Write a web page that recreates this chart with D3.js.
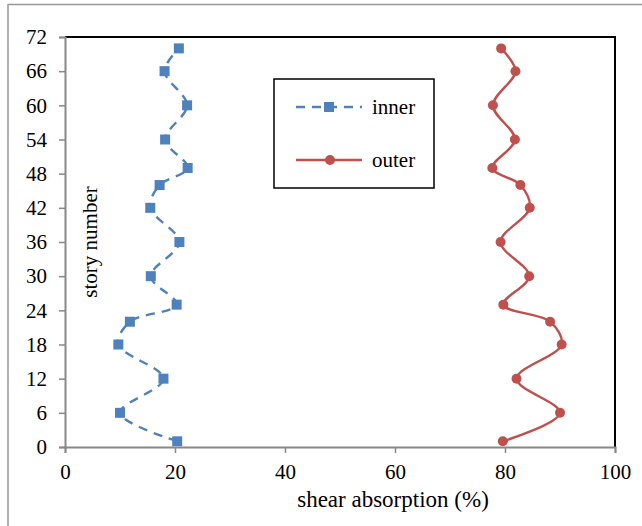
<!DOCTYPE html>
<html><head><meta charset="utf-8">
<script src="https://cdn.jsdelivr.net/npm/d3@7"></script>
</head><body style="margin:0">
<svg id="c" width="642" height="526"></svg>
<script>
const stories = [1, 6, 12, 18, 22, 25, 30, 36, 42, 46, 49, 54, 60, 66, 70];
const innerVals = [20.4, 10.0, 17.9, 9.7, 11.8, 20.3, 15.6, 20.8, 15.5, 17.2, 22.3, 18.2, 22.2, 18.1, 20.7];
const outerVals = [79.6, 90.0, 82.1, 90.3, 88.2, 79.7, 84.4, 79.2, 84.5, 82.8, 77.7, 81.8, 77.8, 81.9, 79.3];
const xTicks = [0, 20, 40, 60, 80, 100];
const yTicks = [0, 6, 12, 18, 24, 30, 36, 42, 48, 54, 60, 66, 72];
const seriesNames = ["inner", "outer"];

const FONT = '"Liberation Serif"';
const svg = d3.select("#c");
const L = 65, R = 615, T = 37, B = 447;
const x = d3.scaleLinear().domain([0, 100]).range([L, R]);
const y = d3.scaleLinear().domain([0, 72]).range([B, T]);

// chart frame (left and top edges visible)
svg.append("line").attr("x1", 8).attr("x2", 642).attr("y1", 4.5).attr("y2", 4.5).attr("stroke", "#999").attr("stroke-width", 1.5);
svg.append("line").attr("x1", 8).attr("x2", 8).attr("y1", 4).attr("y2", 526).attr("stroke", "#999").attr("stroke-width", 1.5);
// plot area border top & right
svg.append("path").attr("d", `M${L},${T}H${R}V${B}`).attr("fill", "none").attr("stroke", "#000").attr("stroke-width", 2);

const xAxis = d3.axisBottom(x).tickValues(xTicks).tickSize(6).tickPadding(11);
const gx = svg.append("g").attr("transform", `translate(0,${B})`).call(xAxis);
gx.attr("font-family", null);
gx.select(".domain").attr("stroke", "#888").attr("stroke-width", 2);
gx.selectAll(".tick line").attr("stroke", "#888").attr("stroke-width", 1.5);
gx.selectAll("text").attr("font-size", 21).attr("fill", "#000").style("font-family", FONT);

const yAxis = d3.axisLeft(y).tickValues(yTicks).tickSize(6).tickPadding(12);
const gy = svg.append("g").attr("transform", `translate(${L},0)`).call(yAxis);
gy.attr("font-family", null);
gy.select(".domain").attr("stroke", "#888").attr("stroke-width", 2);
gy.selectAll(".tick line").attr("stroke", "#888").attr("stroke-width", 1.5);
gy.selectAll("text").attr("font-size", 21).attr("fill", "#000").style("font-family", FONT);

svg.append("text").attr("x", 393).attr("y", 507).attr("text-anchor", "middle")
  .attr("font-size", 23).attr("fill", "#000").style("font-family", FONT).text("shear absorption (%)");
svg.append("text").attr("transform", "translate(97,242) rotate(-90)").attr("text-anchor", "middle")
  .attr("font-size", 21).attr("fill", "#000").style("font-family", FONT).text("story number");

const blue = "#4F81BD", red = "#C0504D";
const line = d3.line().curve(d3.curveCatmullRom.alpha(0.5));
const innerPts = stories.map((s, i) => [x(innerVals[i]), y(s)]);
const outerPts = stories.map((s, i) => [x(outerVals[i]), y(s)]);

svg.append("path").attr("d", line(innerPts)).attr("fill", "none").attr("stroke", blue)
  .attr("stroke-width", 2.4).attr("stroke-dasharray", "9,7");
svg.append("path").attr("d", line(outerPts)).attr("fill", "none").attr("stroke", red)
  .attr("stroke-width", 2.4);
svg.selectAll(".sq").data(innerPts).enter().append("rect")
  .attr("x", d => d[0] - 5).attr("y", d => d[1] - 5).attr("width", 10).attr("height", 10).attr("fill", blue);
svg.selectAll(".ci").data(outerPts).enter().append("circle")
  .attr("cx", d => d[0]).attr("cy", d => d[1]).attr("r", 5).attr("fill", red);

const lg = svg.append("g");
lg.append("rect").attr("x", 274).attr("y", 79).attr("width", 160).attr("height", 109)
  .attr("fill", "#fff").attr("stroke", "#000").attr("stroke-width", 1.5);
lg.append("line").attr("x1", 296).attr("x2", 362).attr("y1", 107).attr("y2", 107)
  .attr("stroke", blue).attr("stroke-width", 2.4).attr("stroke-dasharray", "9,7");
lg.append("rect").attr("x", 324).attr("y", 102).attr("width", 10).attr("height", 10).attr("fill", blue);
lg.append("text").attr("x", 372).attr("y", 114).attr("font-size", 21).attr("fill", "#000").style("font-family", FONT).text(seriesNames[0]);
lg.append("line").attr("x1", 296).attr("x2", 362).attr("y1", 160).attr("y2", 160)
  .attr("stroke", red).attr("stroke-width", 2.4);
lg.append("circle").attr("cx", 330).attr("cy", 160).attr("r", 5).attr("fill", red);
lg.append("text").attr("x", 372).attr("y", 167).attr("font-size", 21).attr("fill", "#000").style("font-family", FONT).text(seriesNames[1]);
</script>
</body></html>
